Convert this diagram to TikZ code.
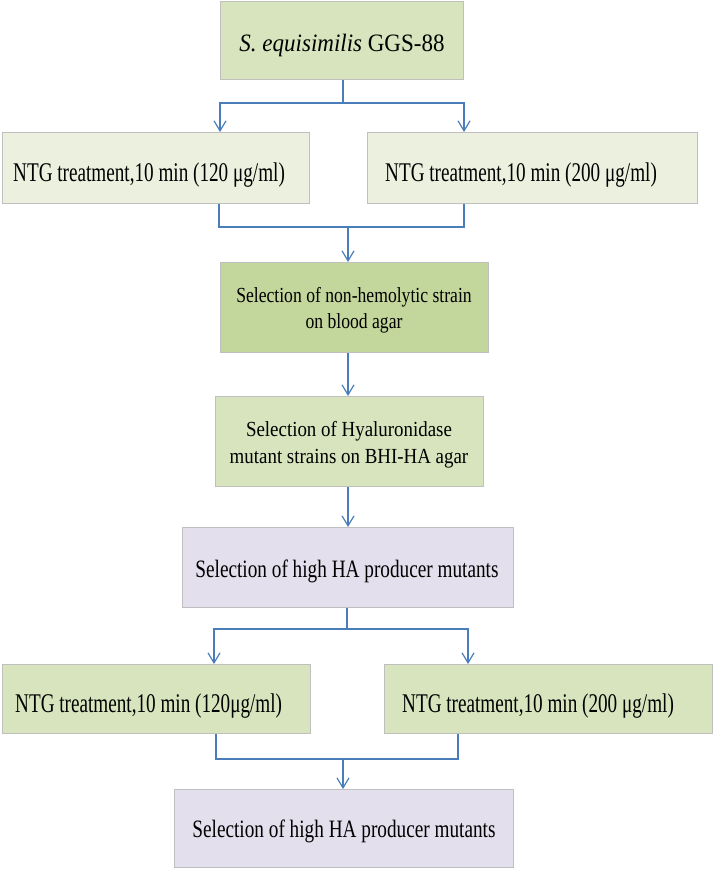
\documentclass[tikz,border=0pt]{standalone}
\usepackage{fontspec}
\setmainfont{Liberation Serif}
\newfontfamily\topf[FakeStretch=0.92]{Liberation Serif}
\newfontfamily\ntgf[FakeStretch=0.71]{Liberation Serif}
\newfontfamily\midf[FakeStretch=0.82]{Liberation Serif}
\newfontfamily\hyf[FakeStretch=0.88]{Liberation Serif}
\newfontfamily\hif[FakeStretch=0.77]{Liberation Serif}
\usetikzlibrary{arrows.meta}
\definecolor{boxline}{HTML}{BFBFBF}
\definecolor{gone}{HTML}{D7E4BD}
\definecolor{gzero}{HTML}{EBF1DE}
\definecolor{gtwo}{HTML}{C3D69B}
\definecolor{lav}{HTML}{E4DFEC}
\definecolor{conn}{HTML}{4A7EBB}
\begin{document}
\begin{tikzpicture}[x=1pt,y=-1pt,
  box/.style={draw=boxline, line width=0.9pt, inner sep=0pt, anchor=north west},
  ln/.style={draw=conn, line width=1.2pt},
  arr/.style={ln, -{Straight Barb[length=10pt,width=12pt,line width=1.2pt]}},
  txt/.style={inner sep=0pt, text=black},
  ntgtxt/.style={txt, anchor=base west, font=\ntgf\fontsize{27}{32}\selectfont},
  hitxt/.style={txt, anchor=base, font=\hif\fontsize{25}{30}\selectfont}]
\useasboundingbox (0,0) rectangle (713,869);
% boxes
\node[box, fill=gone,  minimum width=243pt, minimum height=78pt] (b1) at (220,1) {};
\node[box, fill=gzero, minimum width=307pt, minimum height=71pt] (b2) at (2,132) {};
\node[box, fill=gzero, minimum width=330pt, minimum height=71pt] (b3) at (367,132) {};
\node[box, fill=gtwo,  minimum width=268pt, minimum height=90pt] (b4) at (220,262) {};
\node[box, fill=gone,  minimum width=268pt, minimum height=90pt] (b5) at (215,396) {};
\node[box, fill=lav,   minimum width=331pt, minimum height=80pt] (b6) at (182,527) {};
\node[box, fill=gone,  minimum width=308pt, minimum height=69pt] (b7) at (2,664) {};
\node[box, fill=gone,  minimum width=328pt, minimum height=69pt] (b8) at (384,664) {};
\node[box, fill=lav,   minimum width=339pt, minimum height=78pt] (b9) at (174,789) {};
% texts
\node[txt, anchor=base, font=\topf\fontsize{25}{30}\selectfont] (t1) at (342,52) {{\itshape S. equisimilis} GGS-88};
\node[ntgtxt] (t2) at (13,182) {NTG treatment,10 min (120 μg/ml)};
\node[ntgtxt] (t3) at (385,182) {NTG treatment,10 min (200 μg/ml)};
\node[txt, anchor=base, font=\midf\fontsize{21.5}{26}\selectfont] (t4a) at (354,302) {Selection of non-hemolytic strain};
\node[txt, anchor=base, font=\midf\fontsize{21.5}{26}\selectfont] (t4b) at (354,328) {on blood agar};
\node[txt, anchor=base, font=\hyf\fontsize{21.5}{26}\selectfont] (t5a) at (349,436) {Selection of Hyaluronidase};
\node[txt, anchor=base, font=\hyf\fontsize{21.5}{26}\selectfont] (t5b) at (349,463) {mutant strains on BHI-HA agar};
\node[hitxt] (t6) at (347,577) {Selection of high HA producer mutants};
\node[ntgtxt] (t7) at (15,712) {NTG treatment,10 min (120μg/ml)};
\node[ntgtxt] (t8) at (402,712) {NTG treatment,10 min (200 μg/ml)};
\node[hitxt] (t9) at (344,837) {Selection of high HA producer mutants};
% helper coordinates
\coordinate (xa) at (220,0);
\coordinate (xb) at (464,0);
\coordinate (xc) at (219,0);
\coordinate (xd) at (348,0);
\coordinate (xe) at (214,0);
\coordinate (xf) at (468,0);
\coordinate (xg) at (216,0);
\coordinate (xh) at (458,0);
\coordinate (j1) at (343,103);
\coordinate (j2) at (348,227);
\coordinate (j3) at (347,629);
\coordinate (j4) at (343,759);
% connectors
\draw[ln] (j1 |- b1.south) -- (j1);
\draw[arr] (j1) -| (xa |- b2.north);
\draw[arr] (j1) -| (xb |- b3.north);
\draw[ln] (xc |- b2.south) |- (j2);
\draw[ln] (xb |- b3.south) |- (j2);
\draw[arr] (j2) -- (j2 |- b4.north);
\draw[arr] (xd |- b4.south) -- (xd |- b5.north);
\draw[arr] (xd |- b5.south) -- (xd |- b6.north);
\draw[ln] (j3 |- b6.south) -- (j3);
\draw[arr] (j3) -| (xe |- b7.north);
\draw[arr] (j3) -| (xf |- b8.north);
\draw[ln] (xg |- b7.south) |- (j4);
\draw[ln] (xh |- b8.south) |- (j4);
\draw[arr] (j4) -- (j4 |- b9.north);
\end{tikzpicture}
\end{document}
